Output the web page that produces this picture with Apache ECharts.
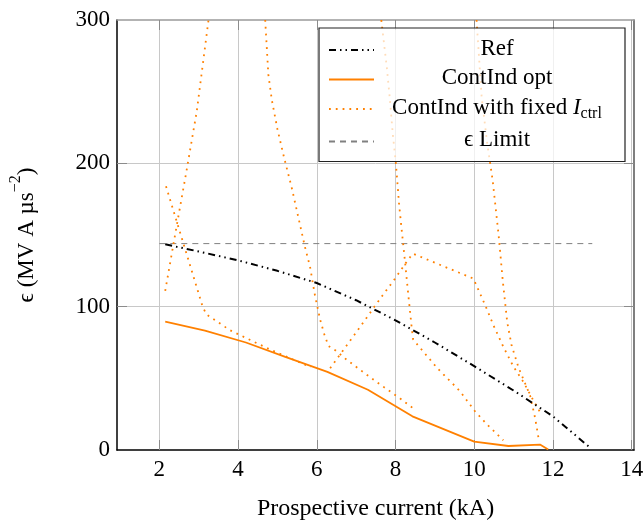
<!DOCTYPE html>
<html>
<head>
<meta charset="utf-8">
<script src="https://cdn.jsdelivr.net/npm/echarts@6/dist/echarts.min.js"></script>
<style>
  html, body { margin: 0; padding: 0; background: #ffffff; }
  #chart { width: 644px; height: 522px; }
</style>
</head>
<body>
<div id="chart"></div>
<script>
// Tick positions on the current axis
const xTicks = [2, 4, 6, 8, 10, 12, 14];
// Inner tick marks on the epsilon axis (0 and 300 sit on the frame)
const yInnerTicks = [100, 200];

// Reference curve
const refX = [2.15, 3, 4, 5, 6, 7, 8, 9, 10, 11, 12, 12.93];
const refY = [143.5, 138.5, 132.3, 125, 116.5, 104.5, 90.5, 75, 58.5, 41.5, 23.5, 2];

// Continuous inductance, optimised control current
const optX = [2.15, 3.16, 4.2, 5.2, 6.27, 7.3, 8.43, 10.0, 10.87, 11.67, 11.88];
const optY = [89.5, 83.3, 75, 65, 54.5, 42, 23.5, 5.8, 2.8, 3.8, 0.3];

// Continuous inductance, fixed control current (one run per current setting)
const fixAX = [2.17, 3.1, 3.2, 3.8, 4.82, 5.85];
const fixAY = [184, 100, 94.5, 83.5, 70, 57.8];

const fixBX = [2.15, 2.4, 2.68, 2.95, 3.25];
const fixBY = [111, 150, 193, 236, 300];

const fixCX = [4.69, 4.77, 4.86, 5.0, 5.17, 5.36, 5.53, 5.7, 5.83, 5.96, 6.09, 6.2, 6.3, 6.47, 6.76, 7.06, 7.52, 8.12, 8.44];
const fixCY = [300, 262, 244, 224, 204, 183.5, 162.6, 141.7, 127.7, 107, 90.5, 80, 72.5, 69.6, 63, 56.8, 47.5, 35.9, 29.3];

const fixDX = [6.34, 7.0, 7.57, 8.0, 8.3, 8.44, 9.98, 10.28, 10.49, 10.74, 11.0, 11.25, 11.5, 11.72];
const fixDY = [57, 82, 104, 120, 132, 137, 119.6, 101, 87, 72, 58, 47.5, 34.7, 24.2];

const fixEX = [7.64, 7.78, 7.86, 7.93, 8.01, 8.09, 8.16, 8.24, 8.33, 8.41, 8.45, 9.05, 9.64, 10.02, 10.32, 10.74];
const fixEY = [300, 267, 244, 221, 200, 172, 153, 132, 107, 86, 77, 57.5, 41, 27, 18, 6.8];

const fixFX = [10.06, 10.19, 10.33, 10.47, 10.62, 10.73, 10.84, 10.95, 11.12, 11.42, 11.55, 11.63];
const fixFY = [300, 246, 214, 188, 150, 117, 89, 73, 58, 38, 22, 9];

// Limit line
const limitX = [2, 13];
const limitY = [144, 144];

const NAME_REF = 'Ref';
const NAME_OPT = 'ContInd opt';
const NAME_FIX = 'ContInd with fixed Ictrl';
const NAME_LIM = 'ϵ Limit';

const ORANGE = '#ff8000';
const SERIF_NAME = 'Liberation Serif';
const SERIF = '"Liberation Serif", "DejaVu Serif", serif';
const FS = 23;      // main text size
const FS_SUB = 16;  // sub/superscript size
const LEGEND_TEXT_W = 236;

function pairs(xs, ys) { return xs.map((x, i) => [x, ys[i]]); }

// Text width helper, used to centre the composite legend label
const measureCtx = document.createElement('canvas').getContext('2d');
function textWidth(str, size, italic) {
  measureCtx.font = (italic ? 'italic ' : '') + size + 'px "' + SERIF_NAME + '"';
  return measureCtx.measureText(str).width;
}

const fixedRuns = [
  [fixAX, fixAY], [fixBX, fixBY], [fixCX, fixCY],
  [fixDX, fixDY], [fixEX, fixEY], [fixFX, fixFY]
];

const series = [];
series.push({
  name: NAME_REF, type: 'line', data: pairs(refX, refY), symbol: 'none', z: 5,
  lineStyle: { color: '#000000', width: 2, type: [7, 4, 1.5, 4, 1.5, 4] },
  itemStyle: { color: '#000000' }
});
series.push({
  name: NAME_OPT, type: 'line', data: pairs(optX, optY), symbol: 'none', z: 4,
  lineStyle: { color: ORANGE, width: 1.8 }, itemStyle: { color: ORANGE }
});
fixedRuns.forEach(([xs, ys]) => {
  series.push({
    name: NAME_FIX, type: 'line', data: pairs(xs, ys), symbol: 'none', z: 3,
    lineStyle: { color: ORANGE, width: 1.8, type: [1.8, 5] }, itemStyle: { color: ORANGE }
  });
});
series.push({
  name: NAME_LIM, type: 'line', data: pairs(limitX, limitY), symbol: 'none', z: 2,
  lineStyle: { color: '#808080', width: 1, type: [6, 5] }, itemStyle: { color: '#808080' }
});

// Legend labels: single labels sit centred in a fixed-width token,
// the I_ctrl label gets a left spacer so that it is centred as well.
const fixMain = 'ContInd with fixed ';
const fixW = textWidth(fixMain, FS, false) + textWidth('I', FS, true) + textWidth('ctrl', FS_SUB, false);
const fixPad = Math.max(0, (LEGEND_TEXT_W - fixW) / 2);

const legendLabels = {};
legendLabels[NAME_REF] = '{c|Ref}';
legendLabels[NAME_OPT] = '{c|ContInd opt}';
legendLabels[NAME_FIX] = '{p| }{n|' + fixMain + '}{i|I}{s|ctrl}';
legendLabels[NAME_LIM] = '{c|ϵ Limit}';

const chart = echarts.init(document.getElementById('chart'), null, { renderer: 'canvas' });
chart.setOption({
  animation: false,
  backgroundColor: '#ffffff',
  grid: { left: 117, right: 10, top: 20, bottom: 72, containLabel: false, outerBoundsMode: 'none' },
  xAxis: [{
    type: 'value', min: 0.925, max: 14.06, position: 'bottom',
    name: 'Prospective current (kA)', nameLocation: 'middle', nameGap: 47,
    nameTextStyle: { fontFamily: SERIF, fontSize: 24, color: '#000' },
    axisLine: { show: true, onZero: false, lineStyle: { color: '#000', width: 1.5 } },
    axisTick: { show: true, inside: true, length: 10, customValues: xTicks, lineStyle: { color: '#8c8c8c' } },
    axisLabel: { customValues: xTicks, fontFamily: SERIF, fontSize: FS, color: '#000', margin: 8 },
    splitLine: { show: true, lineStyle: { color: '#c8c8c8', width: 1 } }
  }, {
    type: 'value', min: 0.925, max: 14.06, position: 'top',
    axisLine: { show: true, onZero: false, lineStyle: { color: '#9a9a9a', width: 1.5 } },
    axisTick: { show: true, inside: true, length: 10, customValues: xTicks, lineStyle: { color: '#8c8c8c' } },
    axisLabel: { show: false },
    splitLine: { show: false }
  }],
  yAxis: [{
    type: 'value', min: 0, max: 300, interval: 100, position: 'left',
    name: '{a|ϵ (MV A µs}{s|−2}{a|)}', nameLocation: 'middle', nameGap: 79, nameRotate: 90,
    nameTextStyle: {
      color: '#000',
      rich: {
        a: { fontFamily: SERIF, fontSize: FS, lineHeight: 30, verticalAlign: 'bottom', color: '#000' },
        s: { fontFamily: SERIF, fontSize: FS_SUB, lineHeight: 30, verticalAlign: 'top', color: '#000' }
      }
    },
    axisLine: { show: true, onZero: false, lineStyle: { color: '#000', width: 1.5 } },
    axisTick: { show: true, inside: true, length: 10, customValues: yInnerTicks, lineStyle: { color: '#8c8c8c' } },
    axisLabel: { fontFamily: SERIF, fontSize: FS, color: '#000', margin: 7 },
    splitLine: { show: true, lineStyle: { color: '#c8c8c8', width: 1 } }
  }, {
    type: 'value', min: 0, max: 300, interval: 100, position: 'right',
    axisLine: { show: true, onZero: false, lineStyle: { color: '#555', width: 1.5 } },
    axisTick: { show: true, inside: true, length: 10, customValues: yInnerTicks, lineStyle: { color: '#8c8c8c' } },
    axisLabel: { show: false },
    splitLine: { show: false }
  }],
  legend: {
    data: [NAME_REF, NAME_OPT, NAME_FIX, NAME_LIM],
    orient: 'vertical', left: 319, top: 28,
    padding: [9, 10, 10, 9], itemGap: 6.5, itemWidth: 45, itemHeight: 14,
    backgroundColor: 'rgba(255,255,255,0.72)', borderColor: '#222', borderWidth: 1.2,
    selectedMode: false,
    itemStyle: { opacity: 0 },
    formatter: name => legendLabels[name],
    textStyle: {
      rich: {
        c: { fontFamily: SERIF, fontSize: FS, lineHeight: 26, width: LEGEND_TEXT_W, align: 'center', verticalAlign: 'top', color: '#000' },
        p: { fontFamily: SERIF, fontSize: FS, lineHeight: 26, width: fixPad, verticalAlign: 'top', color: '#000' },
        n: { fontFamily: SERIF, fontSize: FS, lineHeight: 26, verticalAlign: 'top', color: '#000' },
        i: { fontFamily: SERIF, fontSize: FS, fontStyle: 'italic', lineHeight: 26, verticalAlign: 'top', color: '#000' },
        s: { fontFamily: SERIF, fontSize: FS_SUB, lineHeight: 26, verticalAlign: 'bottom', color: '#000' }
      }
    }
  },
  series: series
});
</script>
</body>
</html>
